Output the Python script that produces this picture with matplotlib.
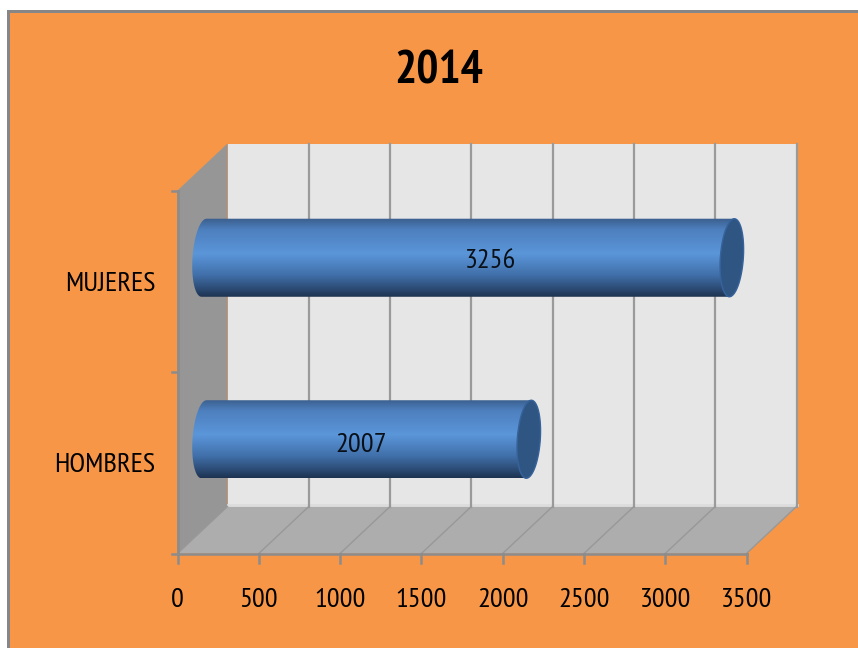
import numpy as np
import matplotlib
matplotlib.use('Agg')
import matplotlib.pyplot as plt
from matplotlib.colors import LinearSegmentedColormap
from matplotlib.patches import Polygon, PathPatch, Rectangle
from matplotlib.path import Path

categorias = ['HOMBRES', 'MUJERES']
valores = [2007, 3256]
ticks_x = [0, 500, 1000, 1500, 2000, 2500, 3000, 3500]
titulo = '2014'

W, H = 858, 648
FUENTE = ['PT Sans Narrow', 'Carlito', 'Lato', 'DejaVu Sans']
NARANJA = '#f79646'
GRIS = '#8c8c8c'

fig = plt.figure(figsize=(W / 100, H / 100), dpi=100, facecolor='white')

# fondo del grafico con el borde gris arriba y a la izquierda
fondo = fig.add_axes([0, 0, 1, 1])
fondo.set_xlim(0, W)
fondo.set_ylim(H, 0)
fondo.axis('off')
fondo.add_patch(Rectangle((7, 10), W, H, fc=NARANJA, ec='none'))
fondo.add_patch(Rectangle((7, 10), 3, H, fc='#868686', ec='none'))
fondo.add_patch(Rectangle((7, 10), W, 3, fc='#868686', ec='none'))

# ejes en la cara frontal de la caja 3D
x0, x1 = 177.5, 746.5
y0, y1 = 553.5, 190.5
ax = fig.add_axes([x0 / W, 1 - y0 / H, (x1 - x0) / W, (y0 - y1) / H])
ax.patch.set_alpha(0)
for s in ax.spines.values():
    s.set_visible(False)

xmax = ticks_x[-1]
ymin, ymax = -0.5, len(categorias) - 0.5
px_x = xmax / (x1 - x0)
px_y = (ymax - ymin) / (y0 - y1)
DX = 50 * px_x
DY = 47 * px_y

# paredes y suelo
ax.add_patch(Polygon([(DX, ymin + DY), (DX + xmax, ymin + DY), (DX + xmax, ymax + DY), (DX, ymax + DY)],
                     fc='#e6e6e6', ec='none', clip_on=False, zorder=1))
ax.add_patch(Polygon([(0, ymin), (DX, ymin + DY), (DX, ymax + DY), (0, ymax)],
                     fc='#969696', ec='none', clip_on=False, zorder=1.5))
ax.add_patch(Polygon([(0, ymin), (xmax, ymin), (xmax + DX, ymin + DY), (DX, ymin + DY)],
                     fc='#adadad', ec='none', clip_on=False, zorder=1.5))

# lineas de division
for t in ticks_x[1:]:
    ax.plot([t + DX, t + DX], [ymin + DY, ymax + DY], color='#9a9a9a', lw=1.6, clip_on=False, zorder=2)
    ax.plot([t, t + DX], [ymin, ymin + DY], color='#989898', lw=1.0, clip_on=False, zorder=2)
ax.plot([DX, DX + xmax], [ymin + DY + 1.5 * px_y] * 2, color='#dcdcdc', lw=2, clip_on=False, zorder=1.8)
ax.plot([0, DX], [ymin, ymin + DY], color='#989898', lw=1.0, clip_on=False, zorder=2)
ax.plot([0, 0], [ymin, ymax], color=GRIS, lw=2.0, clip_on=False, zorder=2)
ax.plot([0, xmax], [ymin, ymin], color=GRIS, lw=1.8, clip_on=False, zorder=2)

# marcas de los ejes
for t in ticks_x:
    ax.plot([t, t], [ymin, ymin - 9 * px_y], color=GRIS, lw=1.8, clip_on=False, zorder=2)
for k in range(len(categorias) + 1):
    ax.plot([0, -6 * px_x], [ymin + k, ymin + k], color=GRIS, lw=1.8, clip_on=False, zorder=2)

# degradado vertical de los cilindros
cmap = LinearSegmentedColormap.from_list('cilindro', [
    (0.00, '#3a5d8c'), (0.14, '#4d7fbd'), (0.45, '#5b96da'),
    (0.72, '#4170aa'), (0.90, '#2b4a73'), (1.00, '#1d3250')])
grad = np.linspace(0, 1, 256).reshape(-1, 1)

alto = 0.43
semi_x = 11.5 * px_x
incl = 2.5 * px_x
# desplazamiento de cada etiqueta respecto al centro del cilindro, en pixeles
ajuste_x = [-5, 23]
ajuste_y = [6, 3]


def borde(cx, cy, t):
    # punto sobre la elipse inclinada del extremo del cilindro
    return (cx + semi_x * np.cos(t) + incl * np.sin(t), cy + alto / 2 * np.sin(t))


for i, v in enumerate(valores):
    cy = i + DY / 2
    ini = DX / 2 + 1.5 * px_x
    fin = v + DX / 2

    t_izq = np.linspace(np.pi / 2, 3 * np.pi / 2, 40)
    t_der = np.linspace(-np.pi / 2, np.pi / 2, 40)
    px, py = borde(ini, cy, t_izq)
    qx, qy = borde(fin, cy, t_der)
    contorno = Path(np.column_stack([np.r_[px, qx, px[0]], np.r_[py, qy, py[0]]]), closed=True)

    img = ax.imshow(grad, cmap=cmap, aspect='auto', origin='upper', zorder=3,
                    extent=(ini - semi_x * 2, fin + semi_x * 2, cy - alto / 2, cy + alto / 2),
                    interpolation='bilinear')
    parche = PathPatch(contorno, fc='none', ec='none', transform=ax.transData)
    ax.add_patch(parche)
    img.set_clip_path(parche)

    t = np.linspace(0, 2 * np.pi, 80)
    ex, ey = borde(fin, cy, t)
    ax.add_patch(Polygon(np.column_stack([ex, ey]), fc='#2f5583', ec='#37639c', lw=1, clip_on=False, zorder=4))

    ax.text((ini + fin) / 2 + ajuste_x[i] * px_x, cy - ajuste_y[i] * px_y, str(v), ha='center', va='center',
            fontsize=20.5, family=FUENTE, color='#0a1018', zorder=5)

ax.set_xlim(0, xmax)
ax.set_ylim(ymin, ymax)
ax.set_xticks(ticks_x)
ax.set_yticks(range(len(categorias)))
ax.set_xticklabels([str(t) for t in ticks_x], family=FUENTE, fontsize=20.5, color='black')
ax.set_yticklabels(categorias, family=FUENTE, fontsize=20.5, color='black')
ax.tick_params(axis='x', length=0, pad=25)
ax.tick_params(axis='y', length=0, pad=16)

fig.text(439 / W, 1 - 71 / H, titulo, ha='center', va='center', family=FUENTE,
         fontsize=33.5, fontweight='bold', color='black')

fig.savefig('out.png', dpi=100, facecolor='white')
